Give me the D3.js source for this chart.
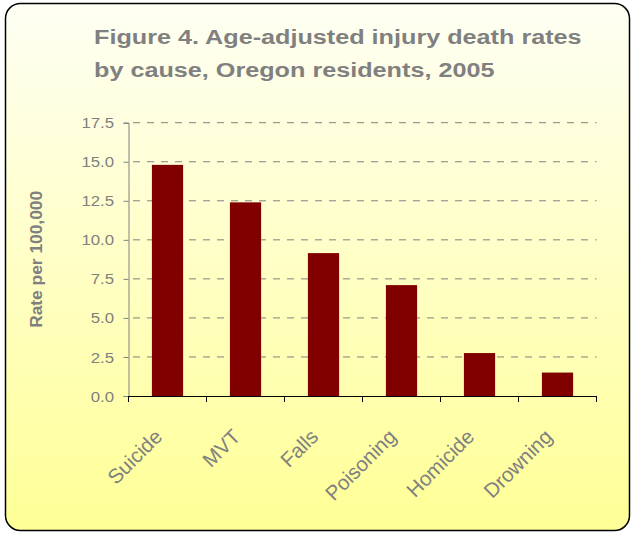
<!DOCTYPE html>
<html>
<head>
<meta charset="utf-8">
<script src="https://cdn.jsdelivr.net/npm/d3@7"></script>
<style>
  body { margin: 0; background: #fff; }
  text { font-family: Arial, "Liberation Sans", sans-serif; }
</style>
</head>
<body>
<svg width="634" height="533"></svg>
<script>
// data
var causes = ["Suicide", "MVT", "Falls", "Poisoning", "Homicide", "Drowning"];
var rates = [14.8, 12.4, 9.15, 7.1, 2.75, 1.5];
var yTicks = [0, 2.5, 5, 7.5, 10, 12.5, 15, 17.5];
var titleLines = ["Figure 4. Age-adjusted injury death rates", "by cause, Oregon residents, 2005"];

var svg = d3.select("svg"),
    width = +svg.attr("width"),
    height = +svg.attr("height");

// the picture is a bit wider than tall, text gets stretched the same way
var sx = 1.2;
var grey = "#808080";

var defs = svg.append("defs");
var grad = defs.append("linearGradient")
    .attr("id", "bg")
    .attr("x1", 0).attr("y1", 0).attr("x2", 0).attr("y2", 1);
grad.append("stop").attr("offset", "0%").attr("stop-color", "#FFFFF4");
grad.append("stop").attr("offset", "100%").attr("stop-color", "#FFFF96");

svg.append("rect")
    .attr("x", 5.5).attr("y", 3.5)
    .attr("width", width - 10).attr("height", height - 6)
    .attr("rx", 15).attr("ry", 15)
    .attr("fill", "url(#bg)")
    .attr("stroke", "#000")
    .attr("stroke-width", 1.5);

// title
svg.selectAll(".title")
    .data(titleLines)
    .enter().append("text")
    .attr("class", "title")
    .attr("transform", function(d, i) { return "translate(94," + (43.5 + i * 33) + ") scale(" + sx + ",1)"; })
    .attr("fill", grey)
    .attr("font-size", 21)
    .attr("font-weight", "bold")
    .text(function(d) { return d; });

var plot = {left: 128.5, right: 596.5, top: 122.7, bottom: 396};

var x = d3.scaleBand()
    .domain(causes)
    .range([plot.left, plot.right])
    .paddingInner(0.6)
    .paddingOuter(0.3);

var y = d3.scaleLinear()
    .domain([0, 17.5])
    .range([plot.bottom, plot.top]);

// dashed grid
svg.append("g")
    .selectAll("line")
    .data(yTicks.filter(function(d) { return d > 0; }))
    .enter().append("line")
    .attr("x1", plot.left).attr("x2", plot.right)
    .attr("y1", function(d) { return y(d); })
    .attr("y2", function(d) { return y(d); })
    .attr("stroke", grey)
    .attr("stroke-dasharray", "7,7")
    .attr("stroke-dashoffset", 9.5);

// bars
svg.append("g")
    .selectAll("rect")
    .data(causes)
    .enter().append("rect")
    .attr("x", function(d) { return x(d); })
    .attr("width", x.bandwidth())
    .attr("y", function(d, i) { return y(rates[i]); })
    .attr("height", function(d, i) { return y(0) - y(rates[i]); })
    .attr("fill", "#800000");

// y axis
var yAxis = svg.append("g")
    .attr("transform", "translate(" + plot.left + ",0)")
    .call(d3.axisLeft(y).tickValues(yTicks).tickFormat(d3.format(".1f")).tickSize(5).tickPadding(7));
yAxis.select(".domain").attr("stroke", grey);
yAxis.selectAll(".tick line").attr("stroke", grey);
yAxis.selectAll(".tick text")
    .attr("fill", grey)
    .attr("font-size", 14)
    .attr("dy", "0.36em")
    .attr("transform", "scale(" + sx + ",1)");

// x axis: ticks sit between the categories
var step = x.step();
var edges = d3.range(causes.length + 1).map(function(i) { return plot.left + i * step; });
var xAxis = svg.append("g");
xAxis.append("line")
    .attr("x1", plot.left).attr("x2", plot.right)
    .attr("y1", plot.bottom + 0.5).attr("y2", plot.bottom + 0.5)
    .attr("stroke", "#000");
xAxis.selectAll(".xt")
    .data(edges)
    .enter().append("line")
    .attr("x1", function(d) { return d; }).attr("x2", function(d) { return d; })
    .attr("y1", plot.bottom).attr("y2", plot.bottom + 6)
    .attr("stroke", "#000");

xAxis.selectAll(".xl")
    .data(causes)
    .enter().append("text")
    .attr("transform", function(d) {
        return "translate(" + (x(d) + x.bandwidth() / 2 - 4) + "," + (plot.bottom + 42) + ") rotate(-45)";
    })
    .attr("text-anchor", "end")
    .attr("fill", grey)
    .attr("font-size", 20.5)
    .text(function(d) { return d; });

// y axis title
svg.append("text")
    .attr("transform", "translate(42," + ((plot.top + plot.bottom) / 2) + ") scale(" + sx + ",1) rotate(-90)")
    .attr("text-anchor", "middle")
    .attr("fill", grey)
    .attr("font-size", 13)
    .attr("font-weight", "bold")
    .attr("textLength", 137)
    .attr("lengthAdjust", "spacingAndGlyphs")
    .text("Rate per 100,000");
</script>
</body>
</html>
